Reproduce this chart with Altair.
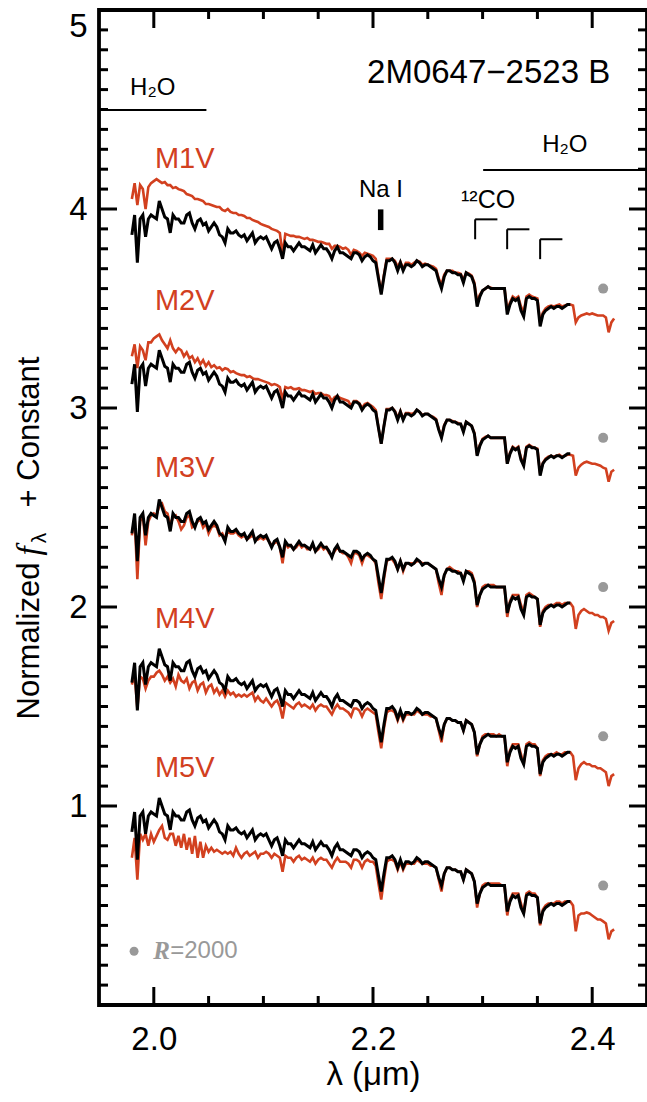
import altair as alt
import pandas as pd

# ---------------- data ----------------
WAVELENGTH = [round(1.98 + 0.0025 * i, 4) for i in range(177)]  # 1.980 .. 2.420 micron

# target 2M0647-2523 B (normalized, no offset); 1.980 .. 2.380
TARGET = [
    0.87, 0.97, 0.73, 0.95, 0.97, 0.86, 0.95, 0.97, 0.96, 0.95,
    1.04, 1.00, 0.96, 0.95, 0.88, 0.97, 0.95, 0.95, 0.93, 0.93,
    0.97, 0.98, 0.93, 0.90, 0.94, 0.95, 0.92, 0.93, 0.89, 0.91,
    0.93, 0.91, 0.87, 0.86, 0.83, 0.90, 0.88, 0.88, 0.89, 0.87,
    0.86, 0.87, 0.84, 0.86, 0.88, 0.83, 0.85, 0.86, 0.85, 0.86,
    0.83, 0.80, 0.83, 0.84, 0.80, 0.75, 0.83, 0.81, 0.81, 0.79,
    0.81, 0.83, 0.81, 0.81, 0.80, 0.79, 0.82, 0.78, 0.80, 0.82,
    0.80, 0.80, 0.78, 0.75, 0.79, 0.81, 0.78, 0.78, 0.77, 0.76,
    0.75, 0.78, 0.78, 0.77, 0.74, 0.76, 0.77, 0.76, 0.74, 0.73,
    0.65, 0.57, 0.66, 0.74, 0.74, 0.75, 0.73, 0.69, 0.73, 0.69,
    0.72, 0.72, 0.71, 0.72, 0.74, 0.73, 0.71, 0.72, 0.72, 0.71,
    0.70, 0.69, 0.64, 0.60, 0.66, 0.69, 0.69, 0.68, 0.68, 0.67,
    0.67, 0.63, 0.68, 0.67, 0.66, 0.62, 0.51, 0.56, 0.59, 0.60,
    0.61, 0.60, 0.60, 0.60, 0.60, 0.60, 0.60, 0.47, 0.52, 0.55,
    0.54, 0.55, 0.49, 0.46, 0.55, 0.56, 0.55, 0.55, 0.54, 0.41,
    0.47, 0.49, 0.50, 0.51, 0.50, 0.51, 0.51, 0.50, 0.51, 0.52,
    0.52,
]

RED_M1V = [
    1.05, 1.13, 1.02, 1.12, 1.10, 1.00, 1.11, 1.13, 1.14, 1.15,
    1.14, 1.13, 1.135, 1.12, 1.12, 1.105, 1.11, 1.10, 1.095, 1.09,
    1.075, 1.07, 1.065, 1.05, 1.05, 1.045, 1.04, 1.025, 1.025, 1.02,
    1.015, 1.01, 1.01, 0.995, 0.99, 1.00, 0.985, 0.98, 0.98, 0.97,
    0.97, 0.965, 0.955, 0.955, 0.945, 0.94, 0.935, 0.925, 0.92, 0.915,
    0.91, 0.90, 0.895, 0.89, 0.88, 0.77, 0.875, 0.87, 0.865, 0.865,
    0.86, 0.86, 0.855, 0.85, 0.855, 0.845, 0.845, 0.84, 0.835, 0.835,
    0.83, 0.825, 0.825, 0.80, 0.815, 0.815, 0.81, 0.80, 0.805, 0.795,
    0.77, 0.795, 0.79, 0.78, 0.765, 0.78, 0.775, 0.77, 0.765, 0.75,
    0.66, 0.58, 0.67, 0.75, 0.75, 0.75, 0.74, 0.71, 0.735, 0.70,
    0.73, 0.73, 0.72, 0.73, 0.74, 0.735, 0.72, 0.725, 0.72, 0.715,
    0.71, 0.70, 0.65, 0.62, 0.67, 0.69, 0.69, 0.69, 0.68, 0.68,
    0.675, 0.645, 0.68, 0.675, 0.665, 0.63, 0.53, 0.57, 0.59, 0.60,
    0.61, 0.605, 0.60, 0.60, 0.60, 0.60, 0.60, 0.49, 0.53, 0.56,
    0.55, 0.56, 0.51, 0.48, 0.56, 0.57, 0.56, 0.555, 0.55, 0.43,
    0.48, 0.50, 0.51, 0.515, 0.51, 0.515, 0.52, 0.51, 0.515, 0.52,
    0.52, 0.515, 0.43, 0.455, 0.465, 0.47, 0.475, 0.47, 0.475, 0.47,
    0.465, 0.465, 0.465, 0.455, 0.38, 0.43, 0.45,
]

RED_M2V = [
    1.01, 1.07, 0.95, 1.06, 1.04, 0.99, 1.08, 1.08, 1.10, 1.11,
    1.12, 1.09, 1.07, 1.05, 1.09, 1.05, 1.03, 1.05, 1.04, 1.01,
    1.03, 1.00, 1.01, 0.98, 1.00, 0.97, 0.99, 0.96, 0.98, 0.955,
    0.965, 0.95, 0.955, 0.94, 0.95, 0.945, 0.93, 0.935, 0.925, 0.92,
    0.915, 0.915, 0.905, 0.91, 0.90, 0.895, 0.895, 0.89, 0.885, 0.88,
    0.875, 0.865, 0.87, 0.865, 0.855, 0.79, 0.855, 0.85, 0.855, 0.845,
    0.845, 0.85, 0.84, 0.84, 0.835, 0.83, 0.835, 0.82, 0.825, 0.825,
    0.815, 0.815, 0.81, 0.785, 0.805, 0.81, 0.80, 0.795, 0.79, 0.785,
    0.76, 0.785, 0.785, 0.775, 0.75, 0.77, 0.775, 0.765, 0.755, 0.74,
    0.65, 0.57, 0.66, 0.745, 0.745, 0.75, 0.735, 0.70, 0.735, 0.695,
    0.725, 0.725, 0.72, 0.725, 0.74, 0.73, 0.715, 0.72, 0.72, 0.71,
    0.705, 0.695, 0.645, 0.605, 0.665, 0.69, 0.69, 0.685, 0.68, 0.675,
    0.67, 0.635, 0.68, 0.67, 0.66, 0.625, 0.515, 0.565, 0.595, 0.605,
    0.61, 0.60, 0.60, 0.60, 0.60, 0.60, 0.60, 0.47, 0.525, 0.555,
    0.545, 0.555, 0.50, 0.47, 0.555, 0.565, 0.555, 0.55, 0.545, 0.42,
    0.475, 0.495, 0.505, 0.51, 0.505, 0.51, 0.515, 0.505, 0.51, 0.515,
    0.515, 0.51, 0.41, 0.45, 0.465, 0.475, 0.48, 0.475, 0.47, 0.47,
    0.465, 0.46, 0.45, 0.445, 0.38, 0.43, 0.44,
]

RED_M3V = [
    0.86, 0.95, 0.64, 0.93, 0.96, 0.81, 0.93, 0.96, 0.97, 0.96,
    1.01, 1.02, 0.98, 0.97, 0.91, 0.95, 0.96, 0.93, 0.89, 0.91,
    0.95, 0.96, 0.90, 0.91, 0.93, 0.94, 0.90, 0.92, 0.87, 0.90,
    0.91, 0.90, 0.86, 0.87, 0.84, 0.88, 0.87, 0.87, 0.88, 0.86,
    0.85, 0.86, 0.84, 0.85, 0.86, 0.84, 0.84, 0.85, 0.84, 0.85,
    0.83, 0.81, 0.82, 0.83, 0.80, 0.72, 0.82, 0.80, 0.81, 0.79,
    0.80, 0.82, 0.80, 0.81, 0.79, 0.79, 0.81, 0.78, 0.79, 0.81,
    0.79, 0.80, 0.77, 0.76, 0.78, 0.80, 0.78, 0.77, 0.77, 0.75,
    0.72, 0.77, 0.77, 0.76, 0.72, 0.76, 0.76, 0.75, 0.74, 0.72,
    0.62, 0.54, 0.64, 0.73, 0.74, 0.74, 0.72, 0.69, 0.73, 0.68,
    0.72, 0.72, 0.72, 0.72, 0.73, 0.73, 0.72, 0.72, 0.72, 0.71,
    0.70, 0.69, 0.62, 0.56, 0.66, 0.69, 0.70, 0.69, 0.68, 0.68,
    0.67, 0.64, 0.68, 0.68, 0.67, 0.63, 0.50, 0.56, 0.60, 0.61,
    0.61, 0.61, 0.61, 0.60, 0.60, 0.60, 0.60, 0.45, 0.53, 0.56,
    0.56, 0.56, 0.51, 0.47, 0.56, 0.57, 0.56, 0.55, 0.54, 0.40,
    0.48, 0.50, 0.51, 0.51, 0.51, 0.52, 0.52, 0.51, 0.52, 0.52,
    0.52, 0.50, 0.39, 0.46, 0.48, 0.49, 0.48, 0.47, 0.47, 0.46,
    0.46, 0.45, 0.45, 0.44, 0.38, 0.42, 0.43,
]

RED_M4V = [
    0.86, 0.91, 0.74, 0.90, 0.89, 0.84, 0.88, 0.90, 0.90, 0.92,
    0.93, 0.91, 0.88, 0.90, 0.87, 0.89, 0.85, 0.91, 0.88, 0.87,
    0.89, 0.84, 0.87, 0.88, 0.83, 0.86, 0.87, 0.82, 0.85, 0.86,
    0.82, 0.84, 0.81, 0.83, 0.80, 0.83, 0.81, 0.82, 0.80, 0.81,
    0.80, 0.81, 0.80, 0.81, 0.82, 0.78, 0.80, 0.78, 0.77, 0.79,
    0.77, 0.75, 0.77, 0.78, 0.75, 0.69, 0.77, 0.76, 0.75, 0.74,
    0.76, 0.77, 0.75, 0.76, 0.75, 0.74, 0.76, 0.73, 0.75, 0.76,
    0.75, 0.75, 0.73, 0.71, 0.74, 0.76, 0.74, 0.74, 0.73, 0.72,
    0.70, 0.74, 0.74, 0.73, 0.70, 0.73, 0.74, 0.73, 0.72, 0.71,
    0.62, 0.54, 0.64, 0.72, 0.73, 0.73, 0.72, 0.68, 0.72, 0.68,
    0.71, 0.71, 0.71, 0.71, 0.73, 0.72, 0.71, 0.71, 0.71, 0.70,
    0.70, 0.69, 0.63, 0.57, 0.66, 0.69, 0.69, 0.68, 0.68, 0.67,
    0.67, 0.63, 0.68, 0.67, 0.66, 0.62, 0.50, 0.56, 0.60, 0.61,
    0.61, 0.61, 0.61, 0.60, 0.61, 0.60, 0.60, 0.45, 0.53, 0.56,
    0.56, 0.56, 0.51, 0.46, 0.56, 0.57, 0.56, 0.56, 0.54, 0.40,
    0.48, 0.50, 0.51, 0.51, 0.51, 0.52, 0.51, 0.51, 0.52, 0.52,
    0.52, 0.50, 0.38, 0.44, 0.46, 0.47, 0.46, 0.46, 0.45, 0.45,
    0.44, 0.44, 0.43, 0.42, 0.35, 0.40, 0.41,
]

RED_M5V = [
    0.74, 0.84, 0.63, 0.86, 0.83, 0.86, 0.80, 0.86, 0.82, 0.85,
    0.88, 0.90, 0.84, 0.83, 0.86, 0.86, 0.80, 0.85, 0.79, 0.86,
    0.78, 0.84, 0.76, 0.85, 0.74, 0.82, 0.74, 0.80, 0.77, 0.79,
    0.77, 0.78, 0.77, 0.76, 0.77, 0.76, 0.77, 0.75, 0.79, 0.76,
    0.74, 0.76, 0.77, 0.75, 0.76, 0.77, 0.74, 0.76, 0.76, 0.77,
    0.76, 0.74, 0.76, 0.75, 0.74, 0.67, 0.75, 0.74, 0.74, 0.72,
    0.74, 0.75, 0.73, 0.74, 0.73, 0.72, 0.74, 0.71, 0.73, 0.74,
    0.73, 0.73, 0.71, 0.69, 0.72, 0.74, 0.72, 0.72, 0.72, 0.71,
    0.69, 0.73, 0.73, 0.72, 0.69, 0.72, 0.73, 0.72, 0.72, 0.70,
    0.61, 0.53, 0.63, 0.72, 0.73, 0.73, 0.72, 0.68, 0.72, 0.68,
    0.71, 0.71, 0.71, 0.71, 0.73, 0.72, 0.71, 0.71, 0.71, 0.70,
    0.70, 0.69, 0.63, 0.57, 0.66, 0.69, 0.69, 0.68, 0.68, 0.67,
    0.67, 0.63, 0.68, 0.67, 0.66, 0.62, 0.49, 0.56, 0.60, 0.61,
    0.61, 0.61, 0.61, 0.61, 0.61, 0.60, 0.60, 0.45, 0.53, 0.56,
    0.56, 0.56, 0.51, 0.46, 0.56, 0.57, 0.56, 0.56, 0.54, 0.40,
    0.48, 0.50, 0.51, 0.51, 0.51, 0.52, 0.52, 0.51, 0.52, 0.52,
    0.52, 0.50, 0.37, 0.45, 0.46, 0.46, 0.465, 0.46, 0.45, 0.44,
    0.43, 0.43, 0.42, 0.41, 0.33, 0.37, 0.38,
]

STANDARDS = ["M1V", "M2V", "M3V", "M4V", "M5V"]
OFFSETS = [3.0, 2.25, 1.5, 0.75, 0.0]
RED_SPECTRA = [RED_M1V, RED_M2V, RED_M3V, RED_M4V, RED_M5V]
LABEL_Y = [4.25, 3.54, 2.70, 1.94, 1.19]
LABEL_X = 2.001
RES_DOT_X = 2.41
RES_DOT_Y = [3.60, 2.85, 2.10, 1.35, 0.60]

X_LABELS = [2.0, 2.2, 2.4]
Y_LABELS = [1, 2, 3, 4, 5]

RED = "#d2401f"
GREY = "#999999"
FONT = "Liberation Sans"

W, H = 548, 995
XDOM = [1.95, 2.45]
YDOM = [0.0, 5.0]

rows_t, rows_r = [], []
for name, off, red in zip(STANDARDS, OFFSETS, RED_SPECTRA):
    for w, f in zip(WAVELENGTH, TARGET):
        rows_t.append({"panel": name, "wl": w, "flux": f + off})
    for w, f in zip(WAVELENGTH, red):
        rows_r.append({"panel": name, "wl": w, "flux": f + off})
df_t = pd.DataFrame(rows_t)
df_r = pd.DataFrame(rows_r)

xs = alt.Scale(domain=XDOM, nice=False, zero=False)
ys = alt.Scale(domain=YDOM, nice=False, zero=False)

X_AXIS = alt.Axis(values=X_LABELS, format=".1f", ticks=False, tickSize=0, domain=False,
                  grid=False, labelFontSize=33, labelFont=FONT, labelColor="black",
                  labelPadding=18, title="λ (μm)", titleFont=FONT, titleFontSize=33,
                  titleFontWeight="normal", titleColor="black", titlePadding=2)
Y_AXIS = alt.Axis(values=Y_LABELS, format="d", ticks=False, tickSize=0, domain=False,
                  grid=False, labelFontSize=33, labelFont=FONT, labelColor="black",
                  labelPadding=12, labelFlush=True, title="")


def X(field):
    return alt.X(f"{field}:Q", scale=xs, axis=X_AXIS)


def Y(field):
    return alt.Y(f"{field}:Q", scale=ys, axis=Y_AXIS)


red_lines = alt.Chart(df_r).mark_line(color=RED, strokeWidth=2.6, clip=True).encode(
    x=X("wl"), y=Y("flux"), detail="panel:N")
black_lines = alt.Chart(df_t).mark_line(color="black", strokeWidth=3.0, clip=True).encode(
    x=X("wl"), y=Y("flux"), detail="panel:N")

dots = alt.Chart(pd.DataFrame({"x": [RES_DOT_X] * 5, "y": RES_DOT_Y})).mark_circle(
    color=GREY, opacity=1, size=100).encode(x=X("x"), y=Y("y"))

labels = alt.Chart(pd.DataFrame({"x": [LABEL_X] * 5, "y": LABEL_Y, "t": STANDARDS})).mark_text(
    color=RED, font=FONT, fontSize=29, align="left", baseline="middle").encode(
    x=X("x"), y=Y("y"), text="t:N")


def txt(x, y, t, **kw):
    return alt.Chart(pd.DataFrame({"x": [x], "y": [y], "t": [t]})).mark_text(
        font=kw.pop("font", FONT), baseline="middle", **kw).encode(
        x=X("x"), y=Y("y"), text="t:N")


def seg(x, x2, y, y2, width=2):
    return alt.Chart(pd.DataFrame({"x": [x], "x2": [x2], "y": [y], "y2": [y2]})).mark_rule(
        color="black", strokeWidth=width).encode(x=X("x"), x2="x2:Q", y=Y("y"), y2="y2:Q")


annot = [
    txt(2.4164, 4.683, "2M0647−2523 B", fontSize=33, align="right", color="black"),
    txt(1.999, 4.61, "H₂O", fontSize=24, align="center", color="black"),
    seg(1.95, 2.048, 4.497, 4.497),
    txt(2.375, 4.32, "H₂O", fontSize=24, align="center", color="black"),
    seg(2.3005, 2.45, 4.196, 4.196),
    txt(2.2073, 4.095, "Na I", fontSize=24, align="center", color="black"),
    txt(2.305, 4.045, "¹²CO", fontSize=25, align="center", color="black"),
]

# Na I marker
na_rect = alt.Chart(pd.DataFrame({"x": [2.2045], "x2": [2.2095], "y": [3.894], "y2": [3.998]})).mark_rect(
    color="black").encode(x=X("x"), x2="x2:Q", y=Y("y"), y2="y2:Q")

# CO bandhead brackets
CO_X = [2.2932, 2.3224, 2.3525]
CO_TOP = [3.948, 3.898, 3.848]
for cx, cy in zip(CO_X, CO_TOP):
    annot.append(seg(cx, cx + 0.0203, cy, cy))
    annot.append(seg(cx, cx, cy, cy - 0.10))

# resolution legend
annot.append(alt.Chart(pd.DataFrame({"x": [1.982], "y": [0.27]})).mark_circle(
    color=GREY, opacity=1, size=80).encode(x=X("x"), y=Y("y")))
annot.append(txt(1.9995, 0.27, "R", fontSize=25, align="left", color=GREY,
                 font="Liberation Serif", fontStyle="italic", fontWeight="bold"))
annot.append(txt(2.015, 0.27, "=2000", fontSize=24, align="left", color=GREY))

# ticks (inside the frame, on all four sides)
Y_MAJOR = [1, 2, 3, 4]
Y_MINOR = [round(0.1 * i, 1) for i in range(1, 50) if i % 10 != 0]
X_MAJOR = [2.0, 2.2, 2.4]
X_MINOR = [2.05, 2.10, 2.15, 2.25, 2.30, 2.35]
MAJ, MIN = 18, 9


def yticks(vals, L):
    d = pd.DataFrame({"v": vals})
    left = alt.Chart(d).mark_rule(color="black", strokeWidth=3).encode(
        y=Y("v"), x=alt.value(0), x2=alt.value(L))
    right = alt.Chart(d).mark_rule(color="black", strokeWidth=3).encode(
        y=Y("v"), x=alt.value(W), x2=alt.value(W - L))
    return [left, right]


def xticks(vals, L):
    d = pd.DataFrame({"v": vals})
    bottom = alt.Chart(d).mark_rule(color="black", strokeWidth=3).encode(
        x=X("v"), y=alt.value(H), y2=alt.value(H - L))
    top = alt.Chart(d).mark_rule(color="black", strokeWidth=3).encode(
        x=X("v"), y=alt.value(0), y2=alt.value(L))
    return [bottom, top]


ticks = yticks(Y_MAJOR, MAJ) + yticks(Y_MINOR, MIN) + xticks(X_MAJOR, MAJ) + xticks(X_MINOR, MIN)


# y-axis title built from pieces (italic f with subscript lambda)
def vtxt(px, py, t, size, **kw):
    return alt.Chart(pd.DataFrame({"t": [t]})).mark_text(
        angle=270, fontSize=size, baseline="middle", align="center", color="black",
        font=kw.pop("font", FONT), **kw).encode(
        x=alt.value(px - 99), y=alt.value(py - 10), text="t:N")


ytitle = [
    vtxt(30, 641, "Normalized", 31),
    vtxt(30, 551, "f", 33, font="Liberation Serif", fontStyle="italic"),
    vtxt(40, 538, "λ", 21),
    vtxt(30, 432, "+ Constant", 31),
]

chart = alt.layer(red_lines, black_lines, dots, labels, na_rect, *annot, *ticks, *ytitle).properties(
    width=W, height=H,
    autosize=alt.AutoSizeParams(type="none"),
    padding={"left": 99, "top": 10, "right": 0, "bottom": 97},
    background="white",
).configure_view(stroke="black", strokeWidth=3.8)

chart.save("out.html", embed_options={"renderer": "svg", "actions": False})
